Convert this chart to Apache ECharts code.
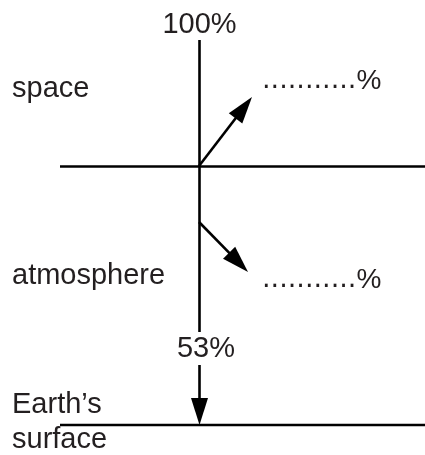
<!DOCTYPE html>
<html><head><meta charset="utf-8">
<script src="https://cdn.jsdelivr.net/npm/echarts@6/dist/echarts.min.js"></script>
<style>html,body{margin:0;padding:0;background:#fff}#c{width:425px;height:455px}</style>
</head><body><div id="c"></div>
<script>
// Diagram coordinates: x to the right, y downward (0..425, 0..455)
const plainLines = [
  [60, 166.5, 425, 166.5],   // boundary space / atmosphere
  [60, 425, 425, 425],       // Earth's surface
  [199.5, 40, 199.5, 332]    // incoming shaft (above 53% label)
];
const arrowLines = [
  [199.5, 365, 199.5, 425],  // 53% reaching the surface
  [199, 166, 252, 97],       // reflected back to space
  [199, 222, 248, 272]       // absorbed in atmosphere
];
const flowLabels = ['100%', '53%'];
const flowLabelAt = [[199.5, 24.5], [206, 348.5]];
const regionLabels = ['space', 'atmosphere', "Earth\u2019s\nsurface"];
const regionLabelAt = [[12, 88.5], [12, 275.5], [12, 422]];
const blankLabels = ['...........', '...........'];
const blankLabelAt = [[262, 81], [262, 280]];

const INK = '#000';
const TXT = '#231f20';
const FONT = 'Liberation Sans, Arial, sans-serif';

function renderPlain(params, api) {
  const a = api.coord([api.value(0), api.value(1)]);
  const b = api.coord([api.value(2), api.value(3)]);
  return {type: 'line', shape: {x1: a[0], y1: a[1], x2: b[0], y2: b[1]},
          style: {stroke: INK, lineWidth: 2.6}};
}
function renderArrow(params, api) {
  const a = api.coord([api.value(0), api.value(1)]);
  const b = api.coord([api.value(2), api.value(3)]);
  const dx = b[0] - a[0], dy = b[1] - a[1];
  const len = Math.hypot(dx, dy), ux = dx / len, uy = dy / len;
  const L = 27, W = 8.5;
  const bx = b[0] - ux * L, by = b[1] - uy * L;
  return {type: 'group', children: [
    {type: 'line', shape: {x1: a[0], y1: a[1], x2: bx + ux * 3, y2: by + uy * 3},
     style: {stroke: INK, lineWidth: 2.6}},
    {type: 'polygon', shape: {points: [[b[0], b[1]], [bx - uy * W, by + ux * W], [bx + uy * W, by - ux * W]]},
     style: {fill: INK}}
  ]};
}
function textRenderer(texts, align, rich) {
  return function (params, api) {
    const p = api.coord([api.value(0), api.value(1)]);
    const t = texts[params.dataIndex];
    const style = {text: t, fill: TXT, fontSize: 29, fontFamily: FONT,
                   align: align, verticalAlign: 'middle', lineHeight: 35};
    if (rich) {
      style.text = '{d|' + t + '}{p|%}';
      style.rich = {
        d: {fontSize: 27, fontFamily: 'DejaVu Sans', fill: TXT},
        p: {fontSize: 28, fontFamily: FONT, fill: TXT}
      };
    }
    return {type: 'text', x: p[0], y: p[1], style: style};
  };
}

const chart = echarts.init(document.getElementById('c'), null, {renderer: 'canvas'});
chart.setOption({
  animation: false,
  backgroundColor: '#fff',
  grid: {left: 0, right: 0, top: 0, bottom: 0},
  xAxis: {type: 'value', min: 0, max: 425, show: false},
  yAxis: {type: 'value', min: 0, max: 455, inverse: true, show: false},
  series: [
    {type: 'custom', renderItem: renderPlain, data: plainLines, encode: {x: [0, 2], y: [1, 3]}, clip: false},
    {type: 'custom', renderItem: renderArrow, data: arrowLines, encode: {x: [0, 2], y: [1, 3]}, clip: false},
    {type: 'custom', renderItem: textRenderer(flowLabels, 'center'), data: flowLabelAt, encode: {x: 0, y: 1}, clip: false},
    {type: 'custom', renderItem: textRenderer(regionLabels, 'left'), data: regionLabelAt, encode: {x: 0, y: 1}, clip: false},
    {type: 'custom', renderItem: textRenderer(blankLabels, 'left', true), data: blankLabelAt, encode: {x: 0, y: 1}, clip: false}
  ]
});
</script>
</body></html>
